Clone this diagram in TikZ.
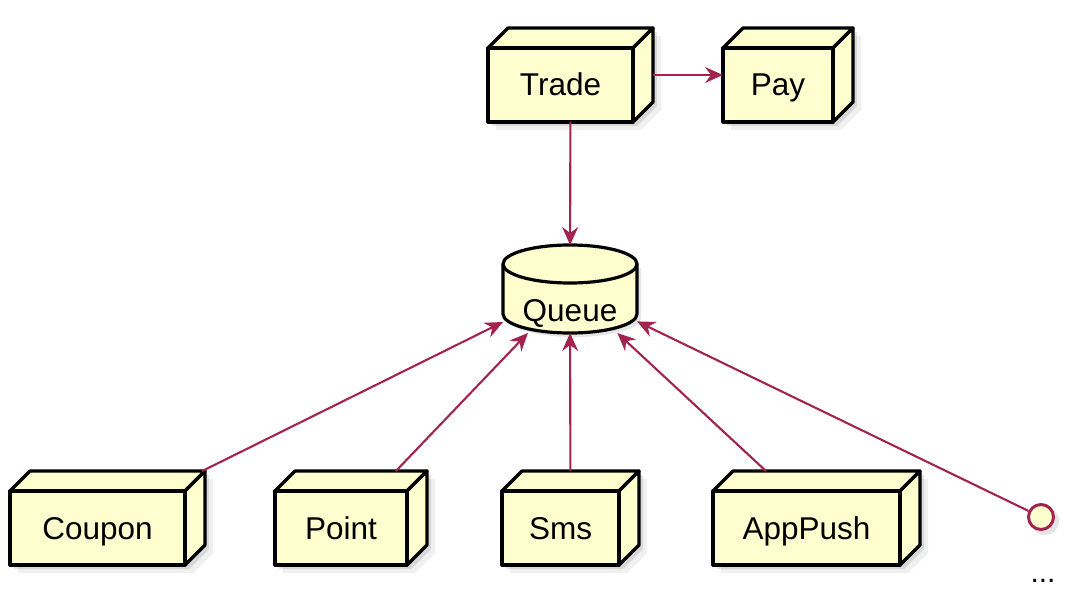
\documentclass[tikz,border=0pt]{standalone}
\usepackage{fontspec}
\setmainfont{Liberation Sans}
\usetikzlibrary{arrows.meta}
\definecolor{boxfill}{HTML}{FEFECE}
\definecolor{arrowcol}{HTML}{A2244E}
\tikzset{
  face/.style={fill=boxfill, draw=black, line width=3.2pt, line join=round},
  conn/.style={draw=arrowcol, line width=2.1pt, -{Stealth[length=18pt,width=16pt,inset=6pt]}},
  lbl/.style={font=\fontsize{31.5}{36}\selectfont, inner sep=0pt, anchor=base},
  hull/.style={draw=none, inner sep=0pt, outer sep=0pt, rectangle},
  shade1/.style={fill=black, opacity=0.10},
  shade2/.style={fill=black, opacity=0.06},
}
% name, left, top (front), right, bottom (front), text
\newcommand\cubebox[6]{%
  \path[shade2] (#2+8,#3+8) -- (#2+28,#3-12) -- (#4+28,#3-12) -- (#4+28,#5-12) -- (#4+8,#5+8) -- (#2+8,#5+8) -- cycle;
  \path[shade1] (#2+4,#3+4) -- (#2+24,#3-16) -- (#4+24,#3-16) -- (#4+24,#5-16) -- (#4+4,#5+4) -- (#2+4,#5+4) -- cycle;
  \path[face] (#2,#3) -- (#2+20,#3-20) -- (#4+20,#3-20) -- (#4,#3) -- cycle;
  \path[face] (#4,#3) -- (#4+20,#3-20) -- (#4+20,#5-20) -- (#4,#5) -- cycle;
  \path[face] (#2,#3) rectangle (#4,#5);
  \node[lbl] (#1-text) at ({(#2+#4)/2},{(#3+#5)/2+11}) {#6};
  \node[hull, minimum width={(#4+20-#2)*1pt}, minimum height={(#5-#3+20)*1pt}] (#1) at ({(#2+#4+20)/2},{(#3+#5-20)/2}) {};
}
\begin{document}
\begin{tikzpicture}[x=1pt,y=-1pt]
\useasboundingbox (0,0) rectangle (1080,599);
\fill[white] (0,0) rectangle (1080,599);

\cubebox{trade}{488}{48}{633}{122}{Trade}
\cubebox{pay}{723}{48}{833}{122}{Pay}
\cubebox{coupon}{10}{491}{185}{565}{Coupon}
\cubebox{point}{275}{491}{407}{565}{Point}
\cubebox{sms}{502}{491}{619}{565}{Sms}
\cubebox{apppush}{713}{491}{900}{565}{AppPush}

% Queue cylinder
\path[shade1] (507,268) -- (507,318) arc[start angle=180,end angle=360,x radius=67pt,y radius=19pt] -- (641,268) -- cycle;
\path[face] (503,264) -- (503,314) arc[start angle=180,end angle=360,x radius=67pt,y radius=19pt] -- (637,264) arc[start angle=0,end angle=180,x radius=67pt,y radius=19pt] -- cycle;
\draw[face, fill=none] (503,264) arc[start angle=180,end angle=360,x radius=67pt,y radius=19pt];
\node[lbl] (queue-text) at (570,321) {Queue};
\node[hull, minimum width=134pt, minimum height=88pt] (queue) at (570,289) {};

% interface circle
\fill[black, opacity=0.10] (1045,521) circle[radius=14pt];
\node[circle, draw=arrowcol, fill=boxfill, line width=3pt, minimum size=25pt, inner sep=0pt] (iface) at (1041,517) {};
\node[anchor=base, font=\fontsize{30}{34}\selectfont, inner sep=0pt] (dots) at (1043,582) {...};

% connectors
\draw[conn] (trade) -- (pay);
\draw[conn] (trade) -- (queue);
\draw[conn] (coupon) -- (queue);
\draw[conn] (point) -- (queue);
\draw[conn] (sms) -- (queue);
\draw[conn] (apppush) -- (queue);
\draw[conn] (iface) -- (queue);
\end{tikzpicture}
\end{document}
